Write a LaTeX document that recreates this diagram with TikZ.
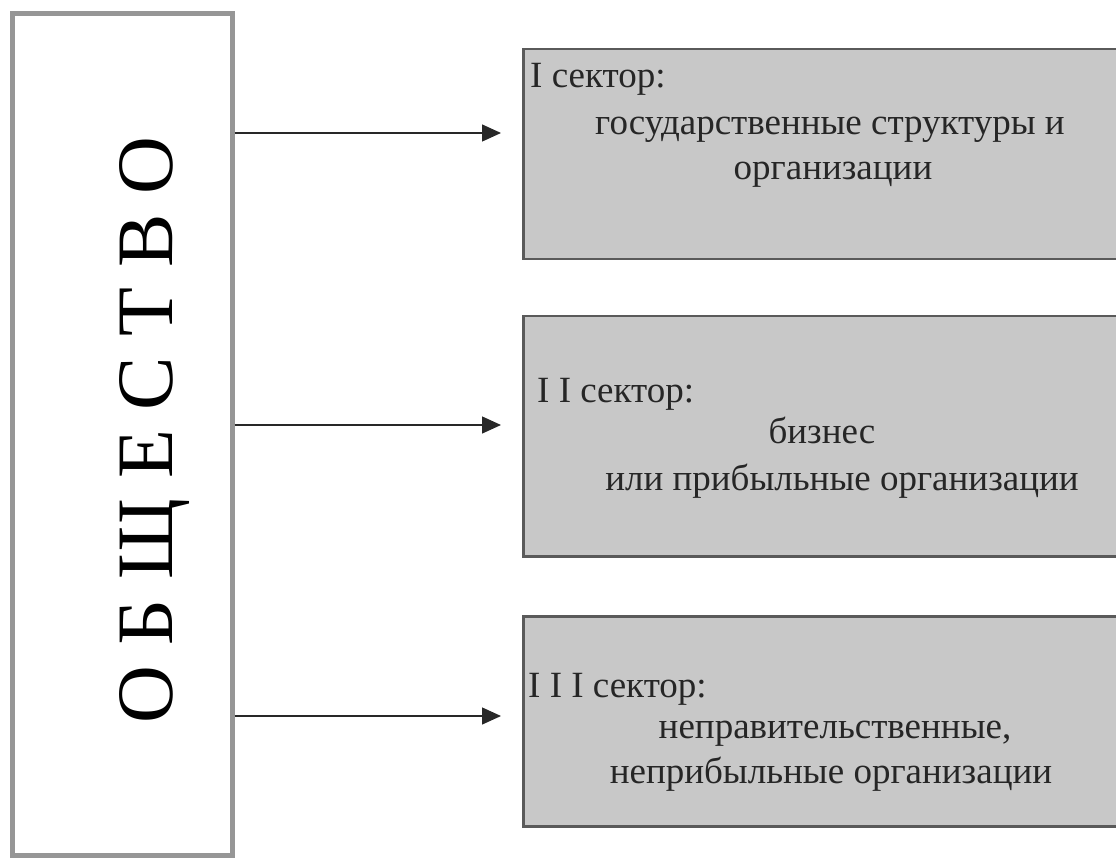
\documentclass[tikz,border=0pt]{standalone}
\usepackage{fontspec}
\setmainfont{Liberation Serif}
\usetikzlibrary{arrows.meta}
\definecolor{secfill}{RGB}{200,200,200}
\definecolor{secedge}{RGB}{90,90,90}
\definecolor{socedge}{RGB}{150,150,150}
\definecolor{arrcol}{RGB}{40,40,40}
\tikzset{
  socbox/.style={draw=socedge, line width=5pt, fill=white, minimum width=220pt, minimum height=841pt, inner sep=0pt},
  secbox/.style={draw=secedge, line width=2.5pt, fill=secfill, anchor=north west, inner sep=0pt},
  sectxt/.style={font=\fontsize{37}{42}\selectfont, text=black!85, inner sep=0pt},
  conn/.style={draw=arrcol, line width=1.4pt, -{Triangle[length=19pt,width=17pt]}, shorten >=21pt},
}
\begin{document}
\begin{tikzpicture}[x=1pt,y=-1pt]
\useasboundingbox (0,0) rectangle (1116,858);
\node[socbox] (soc) at (122,434.5) {};
\node[rotate=90, font=\fontsize{80}{90}\selectfont, inner sep=0pt] (socT) at (155,430) {О Б Щ Е С Т В О};
\node[secbox, minimum width=610pt, minimum height=210pt] (s1) at (522,48) {};
\node[secbox, minimum width=610pt, minimum height=240pt] (s2) at (522,315) {};
\node[secbox, minimum width=610pt, minimum height=210pt] (s3) at (522,615) {};
\node[sectxt, anchor=base west] (s1a) at (530,88) {I сектор:};
\node[sectxt, anchor=base] (s1b) at (830,135) {государственные структуры и};
\node[sectxt, anchor=base] (s1c) at (833,180) {организации};
\node[sectxt, anchor=base west] (s2a) at (537,402) {I I сектор:};
\node[sectxt, anchor=base] (s2b) at (822,443) {бизнес};
\node[sectxt, anchor=base] (s2c) at (842,490) {или прибыльные организации};
\node[sectxt, anchor=base west] (s3a) at (528,697) {I I I сектор:};
\node[sectxt, anchor=base] (s3b) at (835,738) {неправительственные,};
\node[sectxt, anchor=base] (s3c) at (831,783) {неприбыльные организации};
\coordinate (y1) at (0,133);
\coordinate (y2) at (0,425);
\coordinate (y3) at (0,716);
\draw[conn] (soc.east |- y1) -- (s1.west |- y1);
\draw[conn] (soc.east |- y2) -- (s2.west |- y2);
\draw[conn] (soc.east |- y3) -- (s3.west |- y3);
\end{tikzpicture}
\end{document}
